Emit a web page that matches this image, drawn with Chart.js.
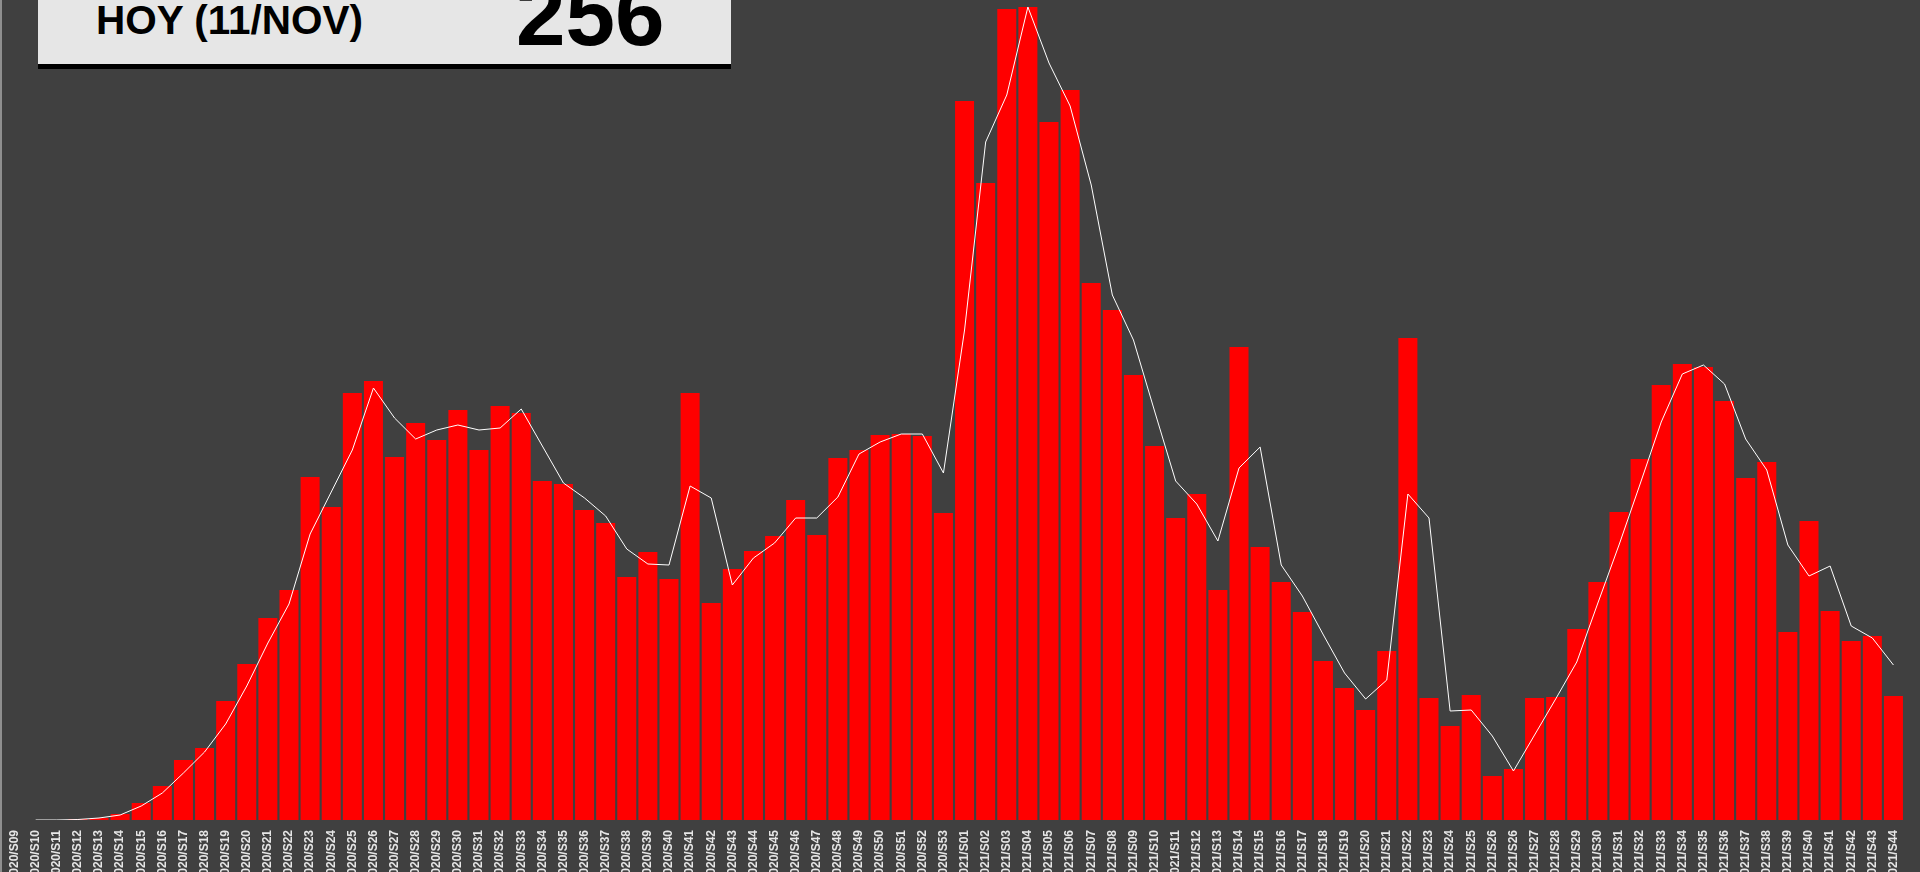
<!DOCTYPE html>
<html>
<head>
<meta charset="utf-8">
<script src="https://cdn.jsdelivr.net/npm/chart.js@4.4.0/dist/chart.umd.min.js"></script>
<style>
  html, body { margin: 0; padding: 0; width: 1920px; height: 872px; overflow: hidden; background: #404040; }
  #wrap { position: relative; width: 1920px; height: 872px; }
  #edge { position: absolute; left: 0; top: 0; width: 2px; height: 872px; background: #8f8f8f; }
  #hoyBox { position: absolute; left: 38px; top: -40px; width: 693px; height: 104px; background: #e6e6e6; border-bottom: 5px solid #000; }
  .hoyText { position: absolute; font-family: "Liberation Sans", Arial, sans-serif; font-weight: bold; color: #000; line-height: 1; white-space: nowrap; }
  #hoyLabel { left: 96px; top: 0px; font-size: 40.5px; }
  #hoyValue { left: 516px; top: -30px; font-size: 89px; }
</style>
</head>
<body>
<div id="wrap">
  <canvas id="chart" width="1920" height="872"></canvas>
  <div id="edge"></div>
  <div id="hoyBox"></div>
  <div class="hoyText" id="hoyLabel">HOY (11/NOV)</div>
  <div class="hoyText" id="hoyValue">256</div>
</div>
<script>
// week labels (2021/S26 appears twice in the source)
const weeks2020 = ['S09','S10','S11','S12','S13','S14','S15','S16','S17','S18','S19','S20','S21','S22','S23','S24','S25','S26','S27','S28','S29','S30','S31','S32','S33','S34','S35','S36','S37','S38','S39','S40','S41','S42','S43','S44','S45','S46','S47','S48','S49','S50','S51','S52','S53'];
const weeks2021 = ['S01','S02','S03','S04','S05','S06','S07','S08','S09','S10','S11','S12','S13','S14','S15','S16','S17','S18','S19','S20','S21','S22','S23','S24','S25','S26','S26','S27','S28','S29','S30','S31','S32','S33','S34','S35','S36','S37','S38','S39','S40','S41','S42','S43','S44'];
const labels = weeks2020.map(w => '2020/' + w).concat(weeks2021.map(w => '2021/' + w));

// weekly cases (bars)
const cases2020 = [0,0,0,1,2,6,17,34,60,72,119,156,202,230,343,313,427,439,363,397,380,410,370,414,407,339,336,310,297,243,268,241,427,217,251,269,284,320,285,362,370,385,386,384,307];
const cases2021 = [719,637,811,813,698,730,537,510,445,374,302,326,230,473,273,238,208,159,132,110,169,482,122,94,125,44,51,122,123,191,238,308,361,435,456,453,419,342,358,188,299,209,179,184,124];

// moving average (white line)
const avg2020 = [null,0,0,0.5,2,5,14,27,47,68,96,134,177,216,286,328,370,432,402,381,390,395,390,392,411,374,337,322,304,271,256,255,334,322,235,262,277,302,302,323,366,378,386,386,347];
const avg2021 = [490,678,725,813,757,714,635,525,480,409,339,316,279,352,373,255,224,185,147,121,140,326,302,109,110,84,49,85,121,158,217,275,336,398,446,455,436,381,350,275,244,254,194,182,155];

const Y_MAX = 820;

const cases = cases2020.concat(cases2021);
const avg = avg2020.concat(avg2021);

const ctx = document.getElementById('chart').getContext('2d');
new Chart(ctx, {
  type: 'bar',
  data: {
    labels: labels,
    datasets: [
      {
        type: 'line',
        label: 'Media',
        data: avg,
        borderColor: '#ffffff',
        borderWidth: 1,
        pointRadius: 0,
        tension: 0,
        fill: false,
        order: 0
      },
      {
        type: 'bar',
        label: 'Casos',
        data: cases,
        backgroundColor: '#ff0000',
        borderWidth: 0,
        categoryPercentage: 1.0,
        barPercentage: 0.9,
        order: 1
      }
    ]
  },
  options: {
    responsive: false,
    animation: false,
    layout: { padding: { left: 4, right: 16, top: 0, bottom: 0 } },
    plugins: { legend: { display: false }, tooltip: { enabled: false } },
    scales: {
      x: {
        grid: { display: false, drawTicks: true, tickLength: 8 },
        border: { display: false },
        ticks: {
          autoSkip: false,
          maxRotation: 90,
          minRotation: 90,
          padding: 2,
          color: '#e6e6e6',
          font: { family: '"Liberation Sans", Arial, sans-serif', size: 12, weight: 'bold' }
        },
        afterFit: (scale) => { scale.height = 52; }
      },
      y: {
        display: false,
        min: 0,
        max: Y_MAX
      }
    }
  }
});
</script>
</body>
</html>
